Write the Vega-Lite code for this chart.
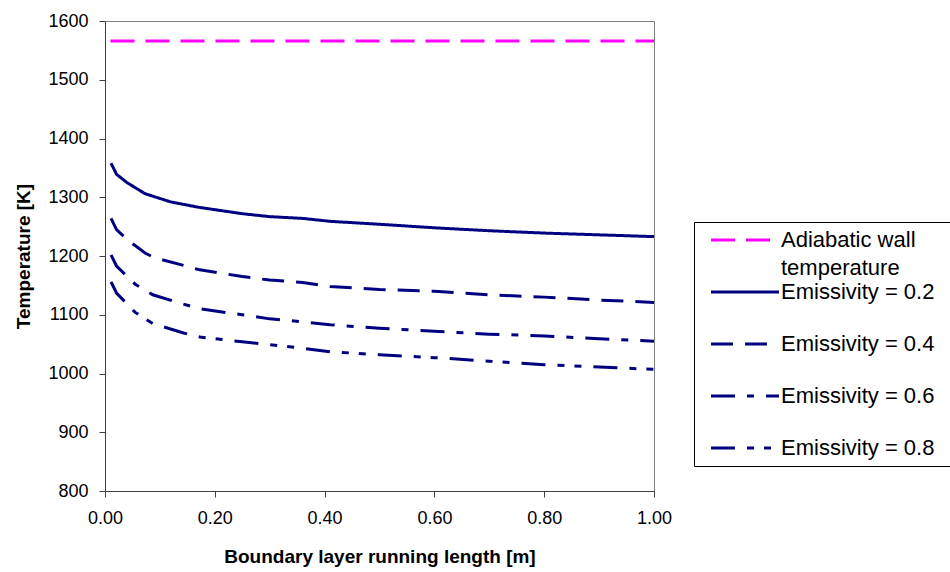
{
  "$schema": "https://vega.github.io/schema/vega-lite/v6.json",
  "width": 549,
  "height": 470,
  "autosize": {"type": "none"},
  "padding": {"left": 105, "top": 21, "right": 296, "bottom": 81},
  "background": "white",
  "config": {
    "font": "Liberation Sans",
    "view": {"stroke": "#808080", "strokeWidth": 1},
    "axis": {
      "grid": false,
      "domainColor": "#404040",
      "tickColor": "#404040",
      "tickSize": 6,
      "labelFlush": false,
      "labelOverlap": false,
      "labelFont": "Liberation Sans",
      "labelFontSize": 18,
      "labelColor": "black",
      "titleFont": "Liberation Sans",
      "titleFontSize": 19,
      "titleFontWeight": "bold",
      "titleColor": "black"
    }
  },
  "data": {
    "values": [
      {"series": "Adiabatic wall temperature", "length": 0.01, "temp": 1566},
      {"series": "Adiabatic wall temperature", "length": 1.0, "temp": 1566},

      {"series": "Emissivity = 0.2", "length": 0.011, "temp": 1358},
      {"series": "Emissivity = 0.2", "length": 0.021, "temp": 1339},
      {"series": "Emissivity = 0.2", "length": 0.04, "temp": 1325},
      {"series": "Emissivity = 0.2", "length": 0.073, "temp": 1306},
      {"series": "Emissivity = 0.2", "length": 0.12, "temp": 1292},
      {"series": "Emissivity = 0.2", "length": 0.17, "temp": 1283},
      {"series": "Emissivity = 0.2", "length": 0.25, "temp": 1272},
      {"series": "Emissivity = 0.2", "length": 0.30, "temp": 1267},
      {"series": "Emissivity = 0.2", "length": 0.36, "temp": 1264},
      {"series": "Emissivity = 0.2", "length": 0.41, "temp": 1259},
      {"series": "Emissivity = 0.2", "length": 0.5, "temp": 1254},
      {"series": "Emissivity = 0.2", "length": 0.6, "temp": 1248},
      {"series": "Emissivity = 0.2", "length": 0.7, "temp": 1243},
      {"series": "Emissivity = 0.2", "length": 0.8, "temp": 1239},
      {"series": "Emissivity = 0.2", "length": 0.9, "temp": 1236},
      {"series": "Emissivity = 0.2", "length": 1.0, "temp": 1233},

      {"series": "Emissivity = 0.4", "length": 0.011, "temp": 1264},
      {"series": "Emissivity = 0.4", "length": 0.021, "temp": 1245},
      {"series": "Emissivity = 0.4", "length": 0.04, "temp": 1228},
      {"series": "Emissivity = 0.4", "length": 0.073, "temp": 1205},
      {"series": "Emissivity = 0.4", "length": 0.09, "temp": 1197},
      {"series": "Emissivity = 0.4", "length": 0.143, "temp": 1184},
      {"series": "Emissivity = 0.4", "length": 0.17, "temp": 1177},
      {"series": "Emissivity = 0.4", "length": 0.25, "temp": 1165},
      {"series": "Emissivity = 0.4", "length": 0.30, "temp": 1159},
      {"series": "Emissivity = 0.4", "length": 0.36, "temp": 1155},
      {"series": "Emissivity = 0.4", "length": 0.41, "temp": 1148},
      {"series": "Emissivity = 0.4", "length": 0.5, "temp": 1143},
      {"series": "Emissivity = 0.4", "length": 0.6, "temp": 1140},
      {"series": "Emissivity = 0.4", "length": 0.7, "temp": 1134},
      {"series": "Emissivity = 0.4", "length": 0.8, "temp": 1130},
      {"series": "Emissivity = 0.4", "length": 0.9, "temp": 1125},
      {"series": "Emissivity = 0.4", "length": 1.0, "temp": 1121},

      {"series": "Emissivity = 0.6", "length": 0.011, "temp": 1202},
      {"series": "Emissivity = 0.6", "length": 0.021, "temp": 1183},
      {"series": "Emissivity = 0.6", "length": 0.055, "temp": 1152},
      {"series": "Emissivity = 0.6", "length": 0.087, "temp": 1134},
      {"series": "Emissivity = 0.6", "length": 0.143, "temp": 1118},
      {"series": "Emissivity = 0.6", "length": 0.173, "temp": 1110},
      {"series": "Emissivity = 0.6", "length": 0.25, "temp": 1100},
      {"series": "Emissivity = 0.6", "length": 0.30, "temp": 1093},
      {"series": "Emissivity = 0.6", "length": 0.36, "temp": 1088},
      {"series": "Emissivity = 0.6", "length": 0.41, "temp": 1083},
      {"series": "Emissivity = 0.6", "length": 0.5, "temp": 1077},
      {"series": "Emissivity = 0.6", "length": 0.6, "temp": 1072},
      {"series": "Emissivity = 0.6", "length": 0.7, "temp": 1067},
      {"series": "Emissivity = 0.6", "length": 0.8, "temp": 1064},
      {"series": "Emissivity = 0.6", "length": 0.9, "temp": 1059},
      {"series": "Emissivity = 0.6", "length": 1.0, "temp": 1055},

      {"series": "Emissivity = 0.8", "length": 0.011, "temp": 1156},
      {"series": "Emissivity = 0.8", "length": 0.021, "temp": 1137},
      {"series": "Emissivity = 0.8", "length": 0.055, "temp": 1104},
      {"series": "Emissivity = 0.8", "length": 0.087, "temp": 1085},
      {"series": "Emissivity = 0.8", "length": 0.143, "temp": 1069},
      {"series": "Emissivity = 0.8", "length": 0.173, "temp": 1062},
      {"series": "Emissivity = 0.8", "length": 0.25, "temp": 1054},
      {"series": "Emissivity = 0.8", "length": 0.30, "temp": 1049},
      {"series": "Emissivity = 0.8", "length": 0.36, "temp": 1043},
      {"series": "Emissivity = 0.8", "length": 0.41, "temp": 1037},
      {"series": "Emissivity = 0.8", "length": 0.5, "temp": 1032},
      {"series": "Emissivity = 0.8", "length": 0.6, "temp": 1027},
      {"series": "Emissivity = 0.8", "length": 0.7, "temp": 1021},
      {"series": "Emissivity = 0.8", "length": 0.8, "temp": 1015},
      {"series": "Emissivity = 0.8", "length": 0.9, "temp": 1011},
      {"series": "Emissivity = 0.8", "length": 1.0, "temp": 1007}
    ]
  },
  "mark": {"type": "line", "strokeWidth": 3, "clip": true},
  "encoding": {
    "x": {
      "field": "length",
      "type": "quantitative",
      "scale": {"domain": [0, 1], "nice": false, "zero": false},
      "axis": {
        "title": "Boundary layer running length [m]",
        "values": [0, 0.2, 0.4, 0.6, 0.8, 1.0],
        "format": ".2f",
        "labelPadding": 12,
        "titleY": 65,
        "titleBaseline": "middle"
      }
    },
    "y": {
      "field": "temp",
      "type": "quantitative",
      "scale": {"domain": [800, 1600], "nice": false, "zero": false},
      "axis": {
        "title": "Temperature [K]",
        "values": [800, 900, 1000, 1100, 1200, 1300, 1400, 1500, 1600],
        "format": "d",
        "labelPadding": 11,
        "titleX": -82,
        "titleBaseline": "middle"
      }
    },
    "color": {
      "field": "series",
      "type": "nominal",
      "scale": {
        "domain": ["Adiabatic wall temperature", "Emissivity = 0.2", "Emissivity = 0.4", "Emissivity = 0.6", "Emissivity = 0.8"],
        "range": ["#FF00FF", "#000080", "#000080", "#000080", "#000080"]
      },
      "legend": {
        "title": null,
        "orient": "none",
        "legendX": 589,
        "legendY": 201,
        "strokeColor": "black",
        "fillColor": "white",
        "padding": 7,
        "symbolOffset": 4,
        "symbolType": "M-1,0H12.6",
        "symbolSize": 100,
        "symbolStrokeWidth": 3,
        "labelFontSize": 22,
        "labelFont": "Liberation Sans",
        "labelColor": "black",
        "labelOffset": 54,
        "labelLimit": 400,
        "rowPadding": 0,
        "labelExpr": "datum.label == 'Adiabatic wall temperature' ? ['Adiabatic wall', 'temperature'] : datum.label",
        "encode": {
          "symbols": {
            "update": {
              "shape": {"signal": "datum.value == 'Adiabatic wall temperature' ? 'M-1,0H12.6M-1,-2.35M-1,6.55M48,0' : datum.value == 'Emissivity = 0.8' ? 'M-1,0H12.6M-1,-1.29M48,0' : 'M-1,0H12.6M-1,-1.29M-1,6.51M48,0'"}
            }
          },
          "labels": {
            "update": {
              "lineHeight": {"value": 28}
            }
          }
        }
      }
    },
    "strokeDash": {
      "field": "series",
      "type": "nominal",
      "scale": {
        "domain": ["Adiabatic wall temperature", "Emissivity = 0.2", "Emissivity = 0.4", "Emissivity = 0.6", "Emissivity = 0.8"],
        "range": [[24, 11], [1, 0], [22, 12], [24, 12, 7, 12], [24, 12, 7, 10, 7, 12]]
      },
      "legend": null
    }
  }
}
